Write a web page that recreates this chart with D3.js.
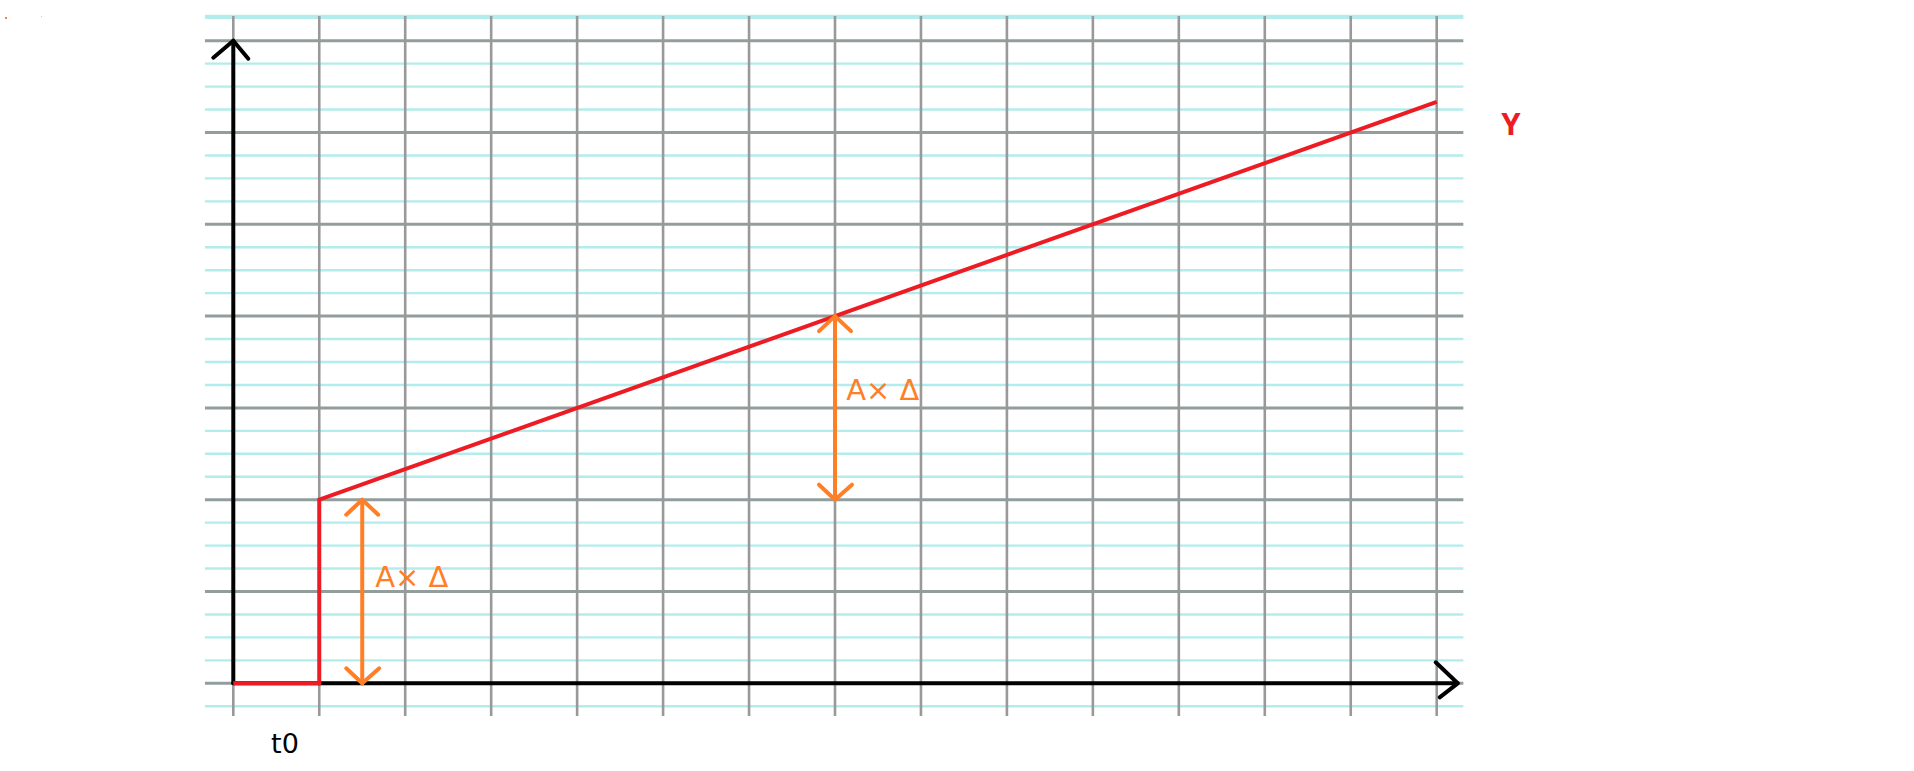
<!DOCTYPE html>
<html>
<head>
<meta charset="utf-8">
<script src="https://cdn.jsdelivr.net/npm/d3@7"></script>
<style>
  html, body { margin: 0; padding: 0; background: #ffffff; }
  svg { display: block; }
</style>
</head>
<body>
<svg id="chart" width="1914" height="771"></svg>
<script>
// ---- data ----
const gridX = [0, 1, 2, 3, 4, 5, 6, 7, 8, 9, 10, 11, 12, 13, 14];
const gridYMajor = [0, 1, 2, 3, 4, 5, 6, 7];
const gridYMinor = [-0.25, 0.25, 0.5, 0.75, 1.25, 1.5, 1.75, 2.25, 2.5, 2.75, 3.25, 3.5, 3.75,
  4.25, 4.5, 4.75, 5.25, 5.5, 5.75, 6.25, 6.5, 6.75, 7.25];
const seriesT = [0, 1, 1, 14];
const seriesY = [0, 0, 2, 6.333];
const arrowT = [1.5, 7];
const arrowFrom = [0, 2];
const arrowTo = [2, 4];
const arrowLabels = ["A\u00d7 \u0394", "A\u00d7 \u0394"];
const seriesName = "Y";
const timeLabel = "t0";

// ---- scales ----
const x = d3.scaleLinear().domain([0, 14]).range([233.3, 1436.7]);
const y = d3.scaleLinear().domain([0, 7]).range([683.3, 40.7]);
const xMin = -0.33, xMax = 14.31, yMin = -0.356, yMax = 7.27;

const svg = d3.select("#chart");

// stray specks in the reference corner
svg.append("rect").attr("x", 5).attr("y", 17).attr("width", 2).attr("height", 2).attr("fill", "#ff7f27");
svg.append("rect").attr("x", 41).attr("y", 16).attr("width", 1).attr("height", 1).attr("fill", "#c8c8ff");

const grid = svg.append("g");
// minor cyan lines
grid.selectAll("line.minor").data(gridYMinor).join("line")
  .attr("x1", x(xMin)).attr("x2", x(xMax))
  .attr("y1", d => y(d)).attr("y2", d => y(d))
  .attr("stroke", "#b2ecec").attr("stroke-width", 2.4);
// top cyan edge
grid.append("line").attr("x1", x(xMin)).attr("x2", x(xMax))
  .attr("y1", y(yMax)).attr("y2", y(yMax))
  .attr("stroke", "#b2ecec").attr("stroke-width", 2.4);
// major horizontal lines
grid.selectAll("line.major").data(gridYMajor).join("line")
  .attr("x1", x(xMin)).attr("x2", x(xMax))
  .attr("y1", d => y(d)).attr("y2", d => y(d))
  .attr("stroke", "#929e9e").attr("stroke-width", 3);
// vertical lines
grid.selectAll("line.v").data(gridX).join("line")
  .attr("x1", d => x(d)).attr("x2", d => x(d))
  .attr("y1", y(yMin)).attr("y2", y(yMax))
  .attr("stroke", "#999999").attr("stroke-width", 2.6);

// axes
const axes = svg.append("g").attr("stroke", "#000").attr("stroke-width", 4)
  .attr("fill", "none").attr("stroke-linecap", "round").attr("stroke-linejoin", "round");
axes.append("line").attr("x1", x(0)).attr("x2", x(0)).attr("y1", y(0)).attr("y2", y(7));
axes.append("line").attr("x1", x(0)).attr("x2", x(14) + 21).attr("y1", y(0)).attr("y2", y(0));
axes.append("path").attr("d", `M${x(0) - 20},${y(7) + 17} L${x(0)},${y(7)} L${x(0) + 15},${y(7) + 18}`);
axes.append("path").attr("d", `M${x(14) - 1},${y(0) - 21} L${x(14) + 21},${y(0)} L${x(14) + 3},${y(0) + 14}`);

// red series
const line = d3.line().x((d, i) => x(seriesT[i])).y(d => y(d));
svg.append("path").datum(seriesY).attr("d", line)
  .attr("fill", "none").attr("stroke", "#ed1c24").attr("stroke-width", 4)
  .attr("stroke-linejoin", "miter");

// orange double arrows
const ar = svg.append("g").attr("stroke", "#ff7f27").attr("stroke-width", 4)
  .attr("fill", "none").attr("stroke-linecap", "round").attr("stroke-linejoin", "round");
arrowT.forEach((t, i) => {
  const cx = x(t), y1 = y(arrowTo[i]), y0 = y(arrowFrom[i]);
  ar.append("line").attr("x1", cx).attr("x2", cx).attr("y1", y1).attr("y2", y0);
  ar.append("path").attr("d", `M${cx - 16},${y1 + 15} L${cx},${y1} L${cx + 16},${y1 + 15}`);
  ar.append("path").attr("d", `M${cx - 16},${y0 - 15} L${cx},${y0} L${cx + 17},${y0 - 15}`);
});

// labels
const lblPos = [[1.65, 1.05], [7.13, 3.09]];
arrowLabels.forEach((s, i) => {
  svg.append("text").attr("x", x(lblPos[i][0])).attr("y", y(lblPos[i][1]))
    .attr("font-family", "'DejaVu Sans', sans-serif").attr("font-size", 29)
    .attr("fill", "#ff7f27").text(s);
});
svg.append("text").attr("x", x(14.75)).attr("y", y(5.97))
  .attr("font-family", "'Open Sans', sans-serif").attr("font-size", 31).attr("font-weight", "bold")
  .attr("fill", "#ed1c24").text(seriesName);
svg.append("text").attr("x", x(0.44)).attr("y", y(-0.756))
  .attr("font-family", "'DejaVu Sans', sans-serif").attr("font-size", 27)
  .attr("fill", "#000").text(timeLabel);
</script>
</body>
</html>
